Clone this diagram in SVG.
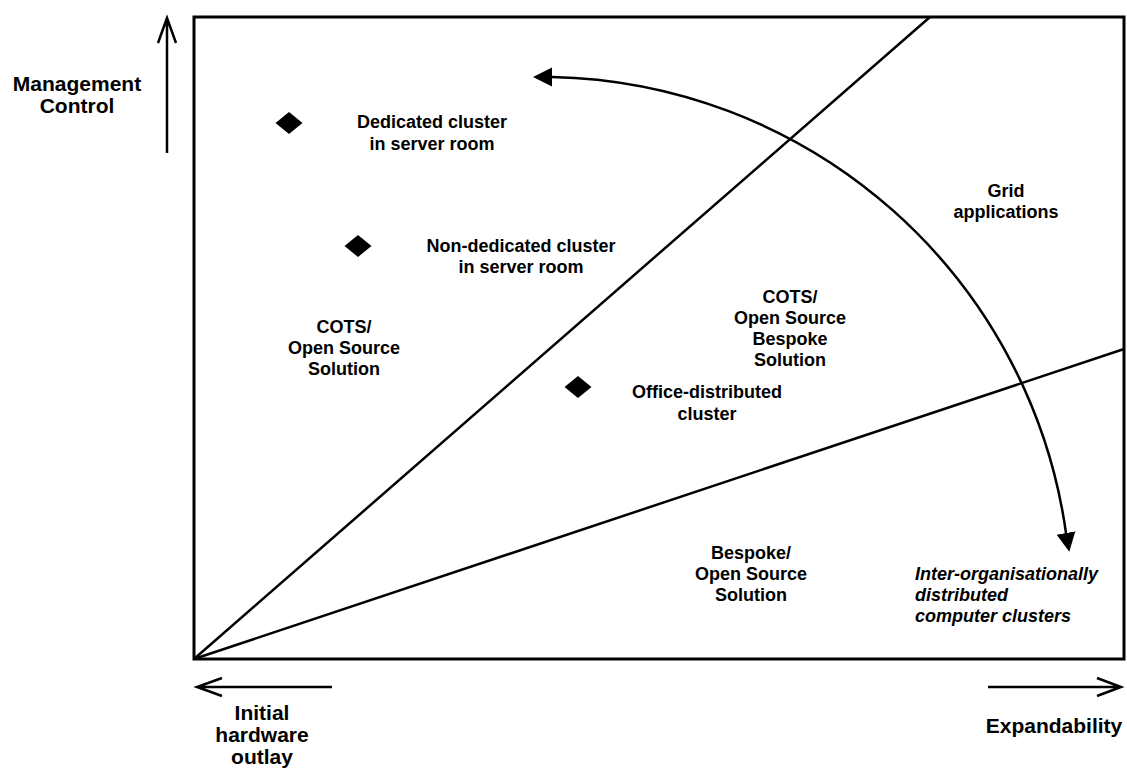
<svg xmlns="http://www.w3.org/2000/svg" width="1127" height="770" viewBox="0 0 1127 770">
<defs>
<style>
.t{font-family:"Liberation Sans",Arial,sans-serif;font-weight:bold;fill:#000;}
.ax{font-size:21px;text-anchor:middle;}
.lb{font-size:18px;text-anchor:middle;}
.it{font-size:18px;font-style:italic;}
.ln{stroke:#000;fill:none;stroke-width:2.5;}
.dm{fill:#000;}
</style>
<marker id="triL" viewBox="0 -10 20 20" refX="0" refY="0" markerWidth="20" markerHeight="20" markerUnits="userSpaceOnUse" orient="180">
<path d="M0,-9.5 L19,0 L0,9.5 Z" fill="#000"/>
</marker>
<marker id="triD" viewBox="0 -10 20 20" refX="0" refY="0" markerWidth="20" markerHeight="20" markerUnits="userSpaceOnUse" orient="80">
<path d="M0,-9.5 L19,0 L0,9.5 Z" fill="#000"/>
</marker>
</defs>
<rect width="1127" height="770" fill="#fff"/>
<g id="frame">
<rect x="194" y="17" width="930" height="642" fill="none" stroke="#000" stroke-width="3"/>
</g>
<g id="connectors">
<line class="ln" x1="194" y1="659" x2="930" y2="17"/>
<line class="ln" x1="194" y1="659" x2="1124" y2="349"/>
<path class="ln" stroke-width="3" d="M552,77 A530,530 0 0 1 1066,533" marker-start="url(#triL)" marker-end="url(#triD)"/>
<path class="ln" d="M167,153 L167,19 M158,43 L167,18 L176,43"/>
<path class="ln" d="M332,687 L198,687 M222,678 L197,687 L222,696"/>
<path class="ln" d="M988,687 L1120,687 M1097,678 L1121,687 L1097,696"/>
</g>
<g id="axis-y">
<text class="t ax" x="77" y="91">Management</text>
<text class="t ax" x="77" y="113">Control</text>
</g>
<g id="axis-x-left">
<text class="t ax" x="262" y="720">Initial</text>
<text class="t ax" x="262" y="742">hardware</text>
<text class="t ax" x="262" y="764">outlay</text>
</g>
<g id="axis-x-right">
<text class="t ax" x="1054" y="733">Expandability</text>
</g>
<g id="dedicated">
<path class="dm" d="M275.5,123 L289,112 L302.5,123 L289,134 Z"/>
<text class="t lb" x="432" y="128">Dedicated cluster</text>
<text class="t lb" x="432" y="150">in server room</text>
</g>
<g id="nondedicated">
<path class="dm" d="M344.5,246 L358,235 L371.5,246 L358,257 Z"/>
<text class="t lb" x="521" y="252">Non-dedicated cluster</text>
<text class="t lb" x="521" y="273">in server room</text>
</g>
<g id="office">
<path class="dm" d="M564.5,387 L578,376 L591.5,387 L578,398 Z"/>
<text class="t lb" x="707" y="398">Office-distributed</text>
<text class="t lb" x="707" y="420">cluster</text>
</g>
<g id="cots-open">
<text class="t lb" x="344" y="333">COTS/</text>
<text class="t lb" x="344" y="354">Open Source</text>
<text class="t lb" x="344" y="375">Solution</text>
</g>
<g id="cots-bespoke">
<text class="t lb" x="790" y="303">COTS/</text>
<text class="t lb" x="790" y="324">Open Source</text>
<text class="t lb" x="790" y="345">Bespoke</text>
<text class="t lb" x="790" y="366">Solution</text>
</g>
<g id="grid">
<text class="t lb" x="1006" y="197">Grid</text>
<text class="t lb" x="1006" y="218">applications</text>
</g>
<g id="bespoke-open">
<text class="t lb" x="751" y="559">Bespoke/</text>
<text class="t lb" x="751" y="580">Open Source</text>
<text class="t lb" x="751" y="601">Solution</text>
</g>
<g id="inter-org">
<text class="t it" x="915" y="580">Inter-organisationally</text>
<text class="t it" x="915" y="601">distributed</text>
<text class="t it" x="915" y="622">computer clusters</text>
</g>
</svg>
